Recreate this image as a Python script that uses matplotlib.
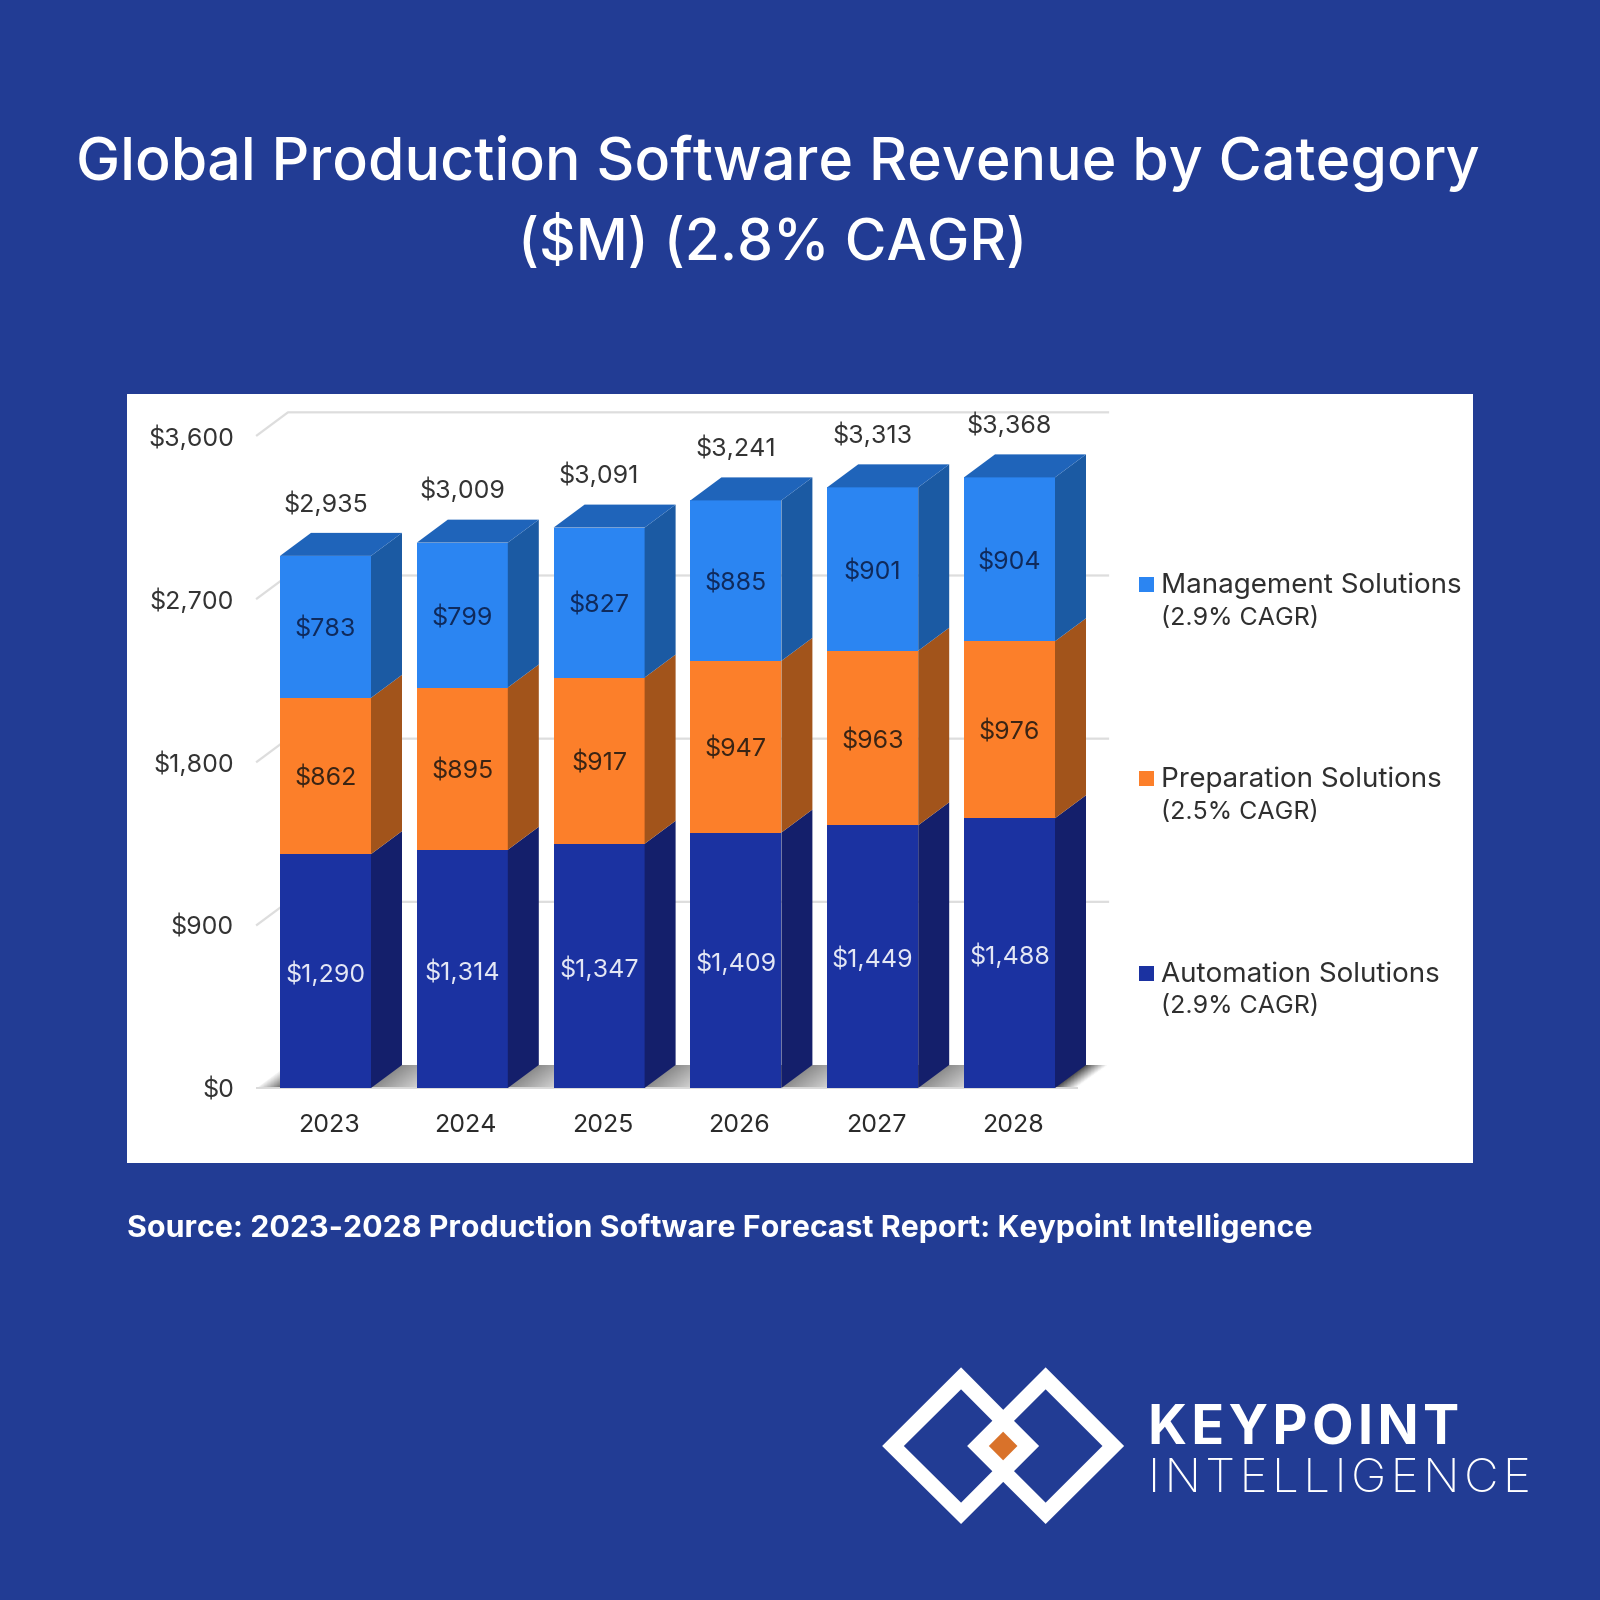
import numpy as np
import matplotlib
matplotlib.use('Agg')
import matplotlib.pyplot as plt
from matplotlib.patches import Polygon, Rectangle

years = ['2023', '2024', '2025', '2026', '2027', '2028']
automation = [1290, 1314, 1347, 1409, 1449, 1488]
preparation = [862, 895, 917, 947, 963, 976]
management = [783, 799, 827, 885, 901, 904]
totals = [2935, 3009, 3091, 3241, 3313, 3368]
y_ticks = [0, 900, 1800, 2700, 3600]

legend_names = ['Management Solutions', 'Preparation Solutions', 'Automation Solutions']
legend_cagr = ['(2.9% CAGR)', '(2.5% CAGR)', '(2.9% CAGR)']

BG = '#223C94'
FONT = 'Inter'
plt.rcParams['font.family'] = [FONT, 'DejaVu Sans']

# front, side, top colours per series
navy = ('#1B32A1', '#141F6B', '#141F6B')
orange = ('#FC7F2A', '#A2541B', '#A2541B')
blue = ('#2B85F2', '#1B5AA3', '#1F64BA')

fig = plt.figure(figsize=(16, 16), dpi=100, facecolor=BG)

# chart panel, scales set so that the white box is the axes
L, R, T, B = 127, 1473, 394, 1163
ax = fig.add_axes([L / 1600, 1 - B / 1600, (R - L) / 1600, (B - T) / 1600])
px_x = 136.8   # pixels per category
px_y = 0.1813  # pixels per dollar
x0, y0 = 325.5, 1088
xlim = ((L - x0) / px_x, (R - x0) / px_x)
ylim = ((y0 - B) / px_y, (y0 - T) / px_y)
dx = 31 / px_x
dy = 23 / px_y
w = 91 / px_x
ax.set_facecolor('white')
ax.axis('off')
ax.add_patch(Rectangle((0, 0), 1, 1, transform=ax.transAxes, color='white', zorder=0))

grid_l = (257 - x0) / px_x
grid_r = 5 + w / 2 + 2 * dx - 9 / px_x

# floor shadow: grey ramps running along the floor between the bars
floor = Polygon([(grid_l, 0), (grid_l + dx, dy), (grid_r, dy), (grid_r - dx, 0)],
                closed=True, transform=ax.transData, fc='none', ec='none')
ax.add_patch(floor)
stops_x = [grid_l, -w / 2]
stops_v = [0.95, 0.42]
for i in range(len(years) - 1):
    stops_x += [i + w / 2, i + 0.5 + w / 4, i + 1 - w / 2]
    stops_v += [0.55, 0.82, 0.38]
stops_x += [5 + w / 2, grid_r - dx]
stops_v += [0.30, 1.0]
gx = np.linspace(grid_l, grid_r, 600)
gy = np.linspace(0, dy, 30)
uu = gx[None, :] - dx * gy[:, None] / dy
shade = np.interp(uu, stops_x, stops_v)
im = ax.imshow(shade, cmap='gray', vmin=0, vmax=1, aspect='auto', origin='lower',
               extent=(grid_l, grid_r, 0, dy), zorder=1)
im.set_clip_path(floor)
ax.plot([grid_l, grid_r - dx], [0, 0], color='#DADADA', lw=1.4, zorder=1.5)

# back wall grid
for t in y_ticks[1:]:
    ax.plot([grid_l, grid_l + dx, grid_r], [t, t + dy, t + dy], color='#DDDDDD', lw=1.6, zorder=1)

for t in y_ticks:
    ax.text((234 - x0) / px_x, t - 2.5 / px_y, '$' + format(t, ','), ha='right', va='center',
            fontsize=18, color='#333333')

# bars
for i in range(len(years)):
    base = 0
    for vals, cols in zip([automation, preparation, management], [navy, orange, blue]):
        v = vals[i]
        l, r = i - w / 2, i + w / 2
        ax.add_patch(Rectangle((l, base), w, v, fc=cols[0], ec='none', zorder=3))
        ax.add_patch(Polygon([(r, base), (r + dx, base + dy), (r + dx, base + v + dy), (r, base + v)],
                             closed=True, fc=cols[1], ec='none', zorder=3))
        if vals is management:
            ax.add_patch(Polygon([(l, base + v), (l + dx, base + v + dy), (r + dx, base + v + dy), (r, base + v)],
                                 closed=True, fc=cols[2], ec='none', zorder=3))
        label_col = '#E4E7F5' if vals is automation else ('#0F2A5C' if vals is management else '#3A2414')
        ax.text(i, base + v / 2 - 3 / px_y, '$' + format(v, ','), ha='center', va='center',
                fontsize=18, color=label_col, zorder=4)
        base += v
    ax.text(i, totals[i] + dy + 29 / px_y, '$' + format(totals[i], ','), ha='center', va='center',
            fontsize=18, color='#333333', zorder=4)
    ax.text(i + 3.5 / px_x, -38 / px_y, years[i], ha='center', va='center',
            fontsize=18, color='#2A2A2A', zorder=4)

ax.set_xlim(xlim)
ax.set_ylim(ylim)

# overlay in pixel coordinates for title, legend and logo
ov = fig.add_axes([0, 0, 1, 1], facecolor='none')
ov.set_xlim(0, 1600)
ov.set_ylim(1600, 0)
ov.axis('off')

ov.text(778, 163, 'Global Production Software Revenue by Category', ha='center', va='center',
        fontsize=42.6, color='white', fontweight='medium')
ov.text(773, 244, '($M) (2.8% CAGR)', ha='center', va='center',
        fontsize=41, color='white', fontweight='medium')
ov.text(127, 1228, 'Source: 2023-2028 Production Software Forecast Report: Keypoint Intelligence',
        ha='left', va='center', fontsize=21.9, color='white', fontweight='bold')

# legend
leg_y = [586, 780, 975]
leg_col = [blue[0], orange[0], navy[0]]
for name, cagr, yy, c in zip(legend_names, legend_cagr, leg_y, leg_col):
    ov.add_patch(Rectangle((1139, yy - 9), 15, 15, fc=c, ec='none'))
    ov.text(1161, yy, name, ha='left', va='center', fontsize=20, color='#2F2F2F')
    ov.text(1161, yy + 32, cagr, ha='left', va='center', fontsize=18, color='#2F2F2F')

def logo(pts, **kw):
    ov.add_patch(Polygon([(870 + a / 2.306, 1350 + b / 3) for a, b in pts], closed=True, ec='none', **kw))

logo([(28, 288), (210, 52), (390, 288), (210, 522)], fc='white')
logo([(224, 288), (405, 52), (586, 288), (405, 522)], fc='white')
logo([(78, 288), (210, 118), (340, 288), (210, 458)], fc=BG)
logo([(274, 288), (405, 118), (536, 288), (405, 458)], fc=BG)
logo([(224, 288), (307, 180), (390, 288), (307, 396)], fc='white')
logo([(274, 288), (307, 245), (340, 288), (307, 331)], fc='#D9722A')

# hair spaces stand in for the wide tracking of the wordmark
ov.text(1148, 1430, '\u200a'.join('KEYPOINT'), ha='left', va='center', fontsize=39, color='white',
        fontweight='bold')
ov.text(1148, 1480, '\u200a'.join('INTELLIGENCE'), ha='left', va='center', fontsize=34.3, color='white',
        fontweight='light')

fig.savefig('out.png', dpi=100, facecolor=BG)
